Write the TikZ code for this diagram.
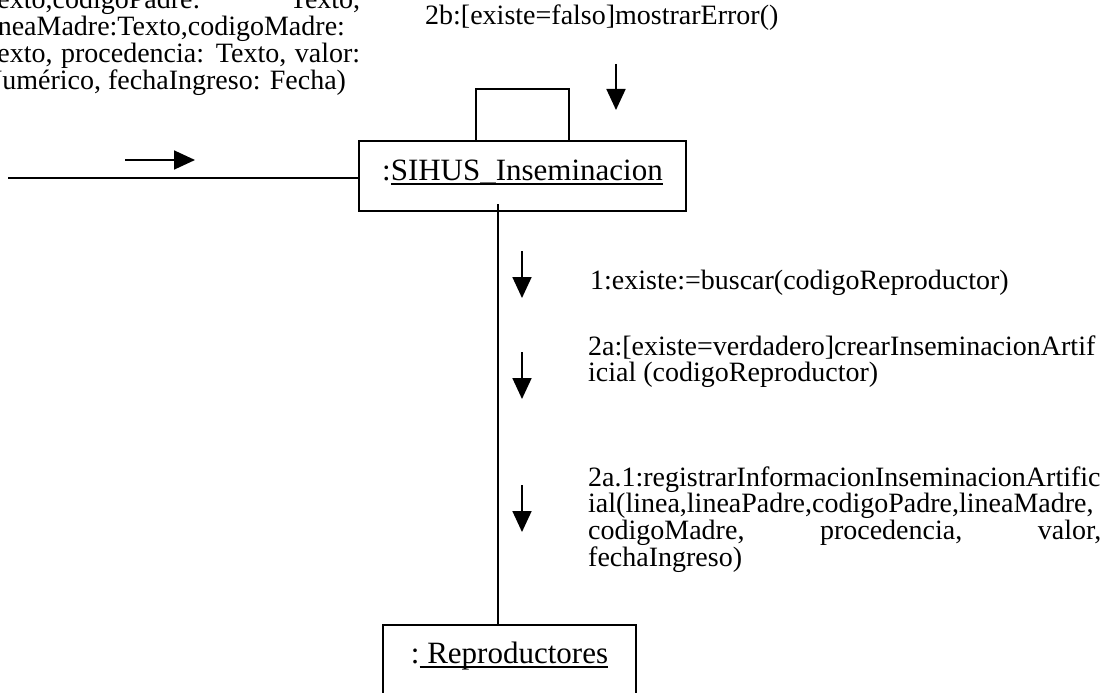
\documentclass[tikz,border=0pt]{standalone}
\usepackage{fontspec}
\setmainfont{Liberation Serif}[Ligatures=CommonOff]
\usetikzlibrary{arrows.meta}
\newcommand\myul[1]{\setbox0=\hbox{#1}\rlap{\rule[-4.6pt]{\wd0}{1.8pt}}\box0}
\tikzset{
  ln/.style={line width=1.8pt},
  msg/.style={line width=1.8pt, -{Triangle[length=21pt,width=19pt]}},
  txt/.style={inner sep=0pt, anchor=base west, font=\fontsize{28pt}{26.7pt}\selectfont},
  objbox/.style={draw, line width=1.8pt, inner sep=0pt, font=\fontsize{31pt}{34pt}\selectfont},
}
\begin{document}
\begin{tikzpicture}[x=1pt,y=-1pt]
\useasboundingbox (0,0) rectangle (1120,693);
\clip (0,0) rectangle (1120,693);
% objects
\node[objbox, minimum width=327pt, minimum height=70pt, text height=21pt, text depth=13pt] (sihus) at (522.5,176) {:\myul{SIHUS\_Inseminacion}};
\node[objbox, minimum width=253pt, minimum height=70pt, text height=20pt, text depth=14pt] (repr) at (509.5,660) {:\myul{ Reproductores}};
% self loop
\coordinate (lpa) at (476,89);
\coordinate (lpb) at (569,89);
\draw[ln] (sihus.north -| lpa) -- (lpa) -- (lpb) -- (sihus.north -| lpb);
% external link
\coordinate (ext) at (8,178);
\draw[ln] (ext) -- (ext -| sihus.west);
% lifeline
\coordinate (llt) at (498,204);
\draw[ln] (llt) -- (llt |- repr.north);
% message arrows
\coordinate (a0s) at (125,160); \coordinate (a0e) at (195,160);
\draw[msg] (a0s) -- (a0e);
\coordinate (a2bs) at (616,64); \coordinate (a2be) at (616,110);
\draw[msg] (a2bs) -- (a2be);
\coordinate (a1s) at (522,251); \coordinate (a1e) at (522,298);
\draw[msg] (a1s) -- (a1e);
\coordinate (a2s) at (522,352); \coordinate (a2e) at (522,399);
\draw[msg] (a2s) -- (a2e);
\coordinate (a3s) at (522,485); \coordinate (a3e) at (522,532);
\draw[msg] (a3s) -- (a3e);
% texts
\node[txt] (params) at (-18,9) {\parbox[t]{378pt}{\lineskiplimit=-50pt\makebox[378pt][s]{Texto,codigoPadre: Texto,}\\lineaMadre:Texto,codigoMadre:\\\makebox[378pt][s]{Texto, procedencia: Texto, valor:}\\Numérico, fechaIngreso: Fecha)}};
\node[txt] (t2b) at (425,25) {2b:[existe=falso]mostrarError()};
\node[txt] (t1) at (590,289) {1:existe:=buscar(codigoReproductor)};
\node[txt] (t2a) at (588,355) {\parbox[t]{513pt}{\lineskiplimit=-50pt 2a:[existe=verdadero]crearInseminacionArtif\\icial (codigoReproductor)}};
\node[txt] (t2a1) at (588,486) {\parbox[t]{513pt}{\lineskiplimit=-50pt 2a.1:registrarInformacionInseminacionArtific\\ial(linea,lineaPadre,codigoPadre,lineaMadre,\\\makebox[513pt][s]{codigoMadre, procedencia, valor,}\\fechaIngreso)}};
\end{tikzpicture}
\end{document}
